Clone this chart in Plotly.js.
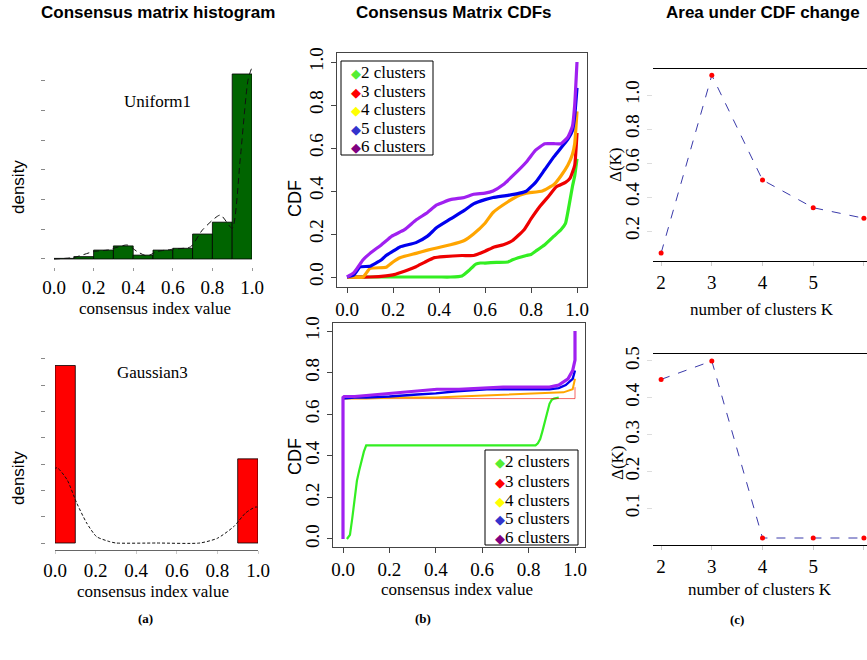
<!DOCTYPE html>
<html><head><meta charset="utf-8">
<script src="https://cdn.plot.ly/plotly-3.0.1.min.js"></script>
<style>html,body{margin:0;padding:0;background:#fff}#chart{width:867px;height:660px}</style>
</head><body><div id="chart"></div>
<script>
// ---------- DATA ----------
// (a) histograms (density, bin width 0.1)
const binCenters = [0.05,0.15,0.25,0.35,0.45,0.55,0.65,0.75,0.85,0.95];
const uniformDensity = [0.02,0.08,0.30,0.44,0.13,0.30,0.36,0.84,1.24,6.23];
const gaussianDensity = [6.75,0,0,0,0,0,0,0,0,3.2];
const uniformKdeX = [0,0.1,0.2,0.27,0.37,0.42,0.47,0.52,0.6,0.69,0.75,0.84,0.9,0.94,0.98,1.0,1.015,1.03,1.04];
const uniformKdeY = [0,0.05,0.25,0.3,0.47,0.25,0.1,0.25,0.33,0.41,0.98,1.48,1.03,3.33,6.03,6.43,6.0,3.9,2.4];
const gaussKdeX = [-0.025,0.01,0.06,0.107,0.156,0.205,0.27,0.3,0.5,0.714,0.8,0.88,0.94,0.99,1.04];
const gaussKdeY = [2.71,2.86,2.4,1.52,0.76,0.24,0.05,0,0,0,0.18,0.62,1.15,1.37,1.23];
const histTicks = [0,0.2,0.4,0.6,0.8,1.0];

// (b) consensus CDFs - Uniform1 (top)
const u2x = [0,0.2,0.4,0.45,0.5,0.53,0.56,0.58,0.6,0.65,0.7,0.72,0.78,0.8,0.82,0.86,0.9,0.93,0.95,0.97,0.98,0.99,1.0];
const u2y = [0,0,0,0,0.005,0.03,0.06,0.065,0.065,0.068,0.07,0.08,0.10,0.105,0.12,0.15,0.19,0.22,0.25,0.36,0.42,0.47,0.55];
const u3x = [0,0.1,0.17,0.2,0.23,0.27,0.3,0.34,0.38,0.42,0.5,0.55,0.6,0.64,0.68,0.72,0.77,0.8,0.84,0.88,0.91,0.95,0.97,0.99,1.0];
const u3y = [0,0,0.005,0.01,0.02,0.035,0.048,0.07,0.09,0.095,0.10,0.10,0.12,0.14,0.15,0.17,0.22,0.27,0.33,0.38,0.42,0.44,0.46,0.52,0.67];
const u4x = [0,0.07,0.1,0.17,0.2,0.23,0.3,0.35,0.39,0.45,0.51,0.55,0.6,0.635,0.7,0.75,0.78,0.85,0.9,0.93,0.96,0.98,0.99,1.0];
const u4y = [0,0,0.04,0.045,0.07,0.09,0.11,0.125,0.135,0.15,0.17,0.20,0.25,0.30,0.35,0.38,0.39,0.40,0.43,0.47,0.52,0.57,0.62,0.77];
const u5x = [0,0.03,0.057,0.1,0.15,0.17,0.2,0.23,0.3,0.35,0.39,0.45,0.51,0.55,0.6,0.635,0.7,0.75,0.78,0.82,0.86,0.9,0.93,0.96,0.98,0.99,1.0];
const u5y = [0,0.01,0.047,0.05,0.08,0.10,0.12,0.14,0.16,0.19,0.23,0.27,0.31,0.34,0.36,0.37,0.38,0.39,0.40,0.44,0.50,0.56,0.60,0.64,0.68,0.75,0.88];
const u6x = [0,0.03,0.07,0.1,0.15,0.195,0.25,0.3,0.35,0.39,0.45,0.51,0.55,0.6,0.635,0.68,0.72,0.78,0.82,0.86,0.9,0.93,0.96,0.98,0.99,1.0];
const u6y = [0,0.02,0.08,0.11,0.15,0.19,0.22,0.265,0.30,0.335,0.36,0.37,0.385,0.39,0.40,0.43,0.47,0.535,0.59,0.62,0.62,0.62,0.65,0.70,0.80,1.0];

// (b) consensus CDFs - Gaussian3 (bottom)
const g2x = [0.017,0.03,0.04,0.05,0.06,0.07,0.08,0.09,0.1,0.5,0.83,0.84,0.85,0.86,0.87,0.88,0.89,0.9,0.91,0.93];
const g2y = [0,0.02,0.1,0.2,0.28,0.33,0.38,0.42,0.45,0.45,0.45,0.46,0.48,0.52,0.56,0.61,0.65,0.67,0.675,0.68];
const g3x = [0,0.5,1.0,1.0];
const g3y = [0.675,0.675,0.675,0.73];
const g4x = [0,0.1,0.23,0.3,0.4,0.5,0.62,0.7,0.82,0.9,0.95,0.99,1.0];
const g4y = [0.675,0.675,0.68,0.68,0.68,0.685,0.69,0.695,0.70,0.70,0.705,0.72,0.77];
const g5x = [0,0.05,0.1,0.2,0.32,0.4,0.49,0.55,0.62,0.75,0.89,0.93,0.96,0.99,1.0];
const g5y = [0.675,0.68,0.68,0.685,0.695,0.70,0.71,0.715,0.72,0.72,0.72,0.725,0.74,0.77,0.81];
const g6x = [0,0,0.005,0.05,0.1,0.2,0.26,0.35,0.405,0.5,0.59,0.69,0.8,0.89,0.93,0.95,0.97,0.99,1.0,1.0];
const g6y = [0,0.68,0.685,0.685,0.69,0.70,0.705,0.715,0.72,0.72,0.725,0.73,0.73,0.73,0.74,0.755,0.77,0.81,0.86,1.0];

const clusterLabels = ['2 clusters','3 clusters','4 clusters','5 clusters','6 clusters'];
const curveColors = ['#33ee22','#ee0000','#ffa500','#0000ee','#a020f0'];
const legendColors = ['#55ee33','#ff0000','#ffff00','#3333cc','#800080'];
const cdfTicks = [0,0.2,0.4,0.6,0.8,1.0];

// (c) delta area
const kValues = [2,3,4,5,6];
const deltaUniform = [0.07,1.116,0.50,0.337,0.275];
const deltaGaussian = [0.45,0.50,0.019,0.019,0.019];
const deltaTicksTop = [0.2,0.4,0.6,0.8,1.0];
const deltaTicksBottom = [0.1,0.2,0.3,0.4,0.5];

// ---------- LAYOUT HELPERS ----------
const W = 867, H = 660;
const PX = v => v / W;
const PY = v => 1 - v / H;
const SERIF = 'Liberation Serif';
const SANS = 'Liberation Sans';

const traces = [];
// (a) top
traces.push({type:'bar', x:binCenters, y:uniformDensity, width:0.1, xaxis:'x', yaxis:'y',
  marker:{color:'#006400', line:{color:'#000', width:0.8}}, showlegend:false});
traces.push({type:'scatter', mode:'lines', x:uniformKdeX, y:uniformKdeY, xaxis:'x', yaxis:'y', cliponaxis:false,
  line:{color:'#111', width:1, dash:'6px,4px', shape:'spline', smoothing:0.6}, showlegend:false});
// (a) bottom
const gx = [], gy = [];
binCenters.forEach((c,i)=>{ if (gaussianDensity[i] > 0) { gx.push(c); gy.push(gaussianDensity[i]); } });
traces.push({type:'bar', x:gx, y:gy, width:0.1, xaxis:'x2', yaxis:'y2',
  marker:{color:'#ff0000', line:{color:'#000', width:0.8}}, showlegend:false});
traces.push({type:'scatter', mode:'lines', x:gaussKdeX, y:gaussKdeY, xaxis:'x2', yaxis:'y2', cliponaxis:false,
  line:{color:'#111', width:1, dash:'3px,2px', shape:'spline', smoothing:0.6}, showlegend:false});

// (b) top
const topX = [u2x,u3x,u4x,u5x,u6x], topY = [u2y,u3y,u4y,u5y,u6y];
topX.forEach((xs,i)=>traces.push({type:'scatter', mode:'lines', x:xs, y:topY[i], xaxis:'x3', yaxis:'y3',
  line:{color:curveColors[i], width:3.2, shape:'spline', smoothing:0.4}, name:clusterLabels[i], showlegend:false}));
// (b) bottom
const botX = [g2x,g3x,g4x,g5x,g6x], botY = [g2y,g3y,g4y,g5y,g6y];
const botW = [2.2,1,2,2.4,3.2];
botX.forEach((xs,i)=>traces.push({type:'scatter', mode:'lines', x:xs, y:botY[i], xaxis:'x4', yaxis:'y4',
  line:{color:curveColors[i], width:botW[i]}, opacity: i===1?0.6:1, name:clusterLabels[i], showlegend:false}));

// (c)
traces.push({type:'scatter', mode:'lines+markers', x:kValues, y:deltaUniform, xaxis:'x5', yaxis:'y5', cliponaxis:false,
  line:{color:'#3a3aaa', width:1, dash:'dash'}, marker:{color:'#ff0000', size:5}, showlegend:false});
traces.push({type:'scatter', mode:'lines+markers', x:kValues, y:deltaGaussian, xaxis:'x6', yaxis:'y6', cliponaxis:false,
  line:{color:'#3a3aaa', width:1, dash:'dash'}, marker:{color:'#ff0000', size:5}, showlegend:false});

// axes
function ax(o){
  return Object.assign({showgrid:false, zeroline:false, automargin:false, fixedrange:true,
    tickfont:{family:SERIF, size:19, color:'#000'}}, o);
}
const layout = {
  width:W, height:H, margin:{l:0,r:0,t:0,b:0}, paper_bgcolor:'#fff', plot_bgcolor:'rgba(0,0,0,0)',
  showlegend:false, font:{family:SERIF, color:'#000'}, bargap:0,
  // (a) top
  xaxis:ax({domain:[PX(54),PX(252)], range:[0,1], anchor:'y', tickvals:histTicks, tickformat:'.1f',
    showline:false, ticks:'outside', ticklen:3, tickcolor:'#999'}),
  yaxis:ax({domain:[PY(267),PY(62)], range:[-0.27,6.633], anchor:'free', position:PX(45),
    tickvals:[0,1,2,3,4,5,6], showticklabels:false, ticks:'outside', ticklen:4, tickcolor:'#888', showline:false}),
  // (a) bottom
  xaxis2:ax({domain:[PX(55),PX(258)], range:[0,1], anchor:'y2', tickvals:histTicks, tickformat:'.1f',
    showline:true, linecolor:'#666', linewidth:1, ticks:'outside', ticklen:3, tickcolor:'#ccc'}),
  yaxis2:ax({domain:[PY(550),PY(355)], range:[-0.266,7.15], anchor:'free', position:PX(45),
    tickvals:[0,1,2,3,4,5,6,7], showticklabels:false, ticks:'outside', ticklen:4, tickcolor:'#888', showline:false}),
  // (b) top
  xaxis3:ax({domain:[PX(337),PX(587)], range:[-0.0435,1.0435], anchor:'y3', tickvals:cdfTicks, tickformat:'.1f',
    showline:true, mirror:true, linecolor:'#444', linewidth:1, ticks:'outside', ticklen:5, tickcolor:'#444'}),
  yaxis3:ax({domain:[PY(287),PY(53)], range:[-0.0465,1.042], anchor:'x3', tickvals:cdfTicks, tickformat:'.1f',
    tickangle:-90, showline:true, mirror:true, linecolor:'#444', linewidth:1, ticks:'outside', ticklen:5, tickcolor:'#444'}),
  // (b) bottom
  xaxis4:ax({domain:[PX(333),PX(585)], range:[-0.0431,1.0431], anchor:'y4', tickvals:cdfTicks, tickformat:'.1f',
    showline:true, mirror:true, linecolor:'#444', linewidth:1, ticks:'outside', ticklen:5, tickcolor:'#444'}),
  yaxis4:ax({domain:[PY(547),PY(323)], range:[-0.0385,1.0385], anchor:'x4', tickvals:cdfTicks, tickformat:'.1f',
    tickangle:-90, showline:true, mirror:true, linecolor:'#444', linewidth:1, ticks:'outside', ticklen:5, tickcolor:'#444'}),
  // (c) top
  xaxis5:ax({domain:[PX(653),1], range:[1.84,6.061], anchor:'y5', tickvals:kValues,
    showline:true, mirror:true, linecolor:'#000', linewidth:1.2, ticks:'outside', ticklen:4, tickcolor:'#ccc'}),
  yaxis5:ax({domain:[PY(261),PY(69)], range:[0.0235,1.153], anchor:'x5', tickvals:deltaTicksTop, tickformat:'.1f',
    tickangle:-90, showline:false, ticks:'outside', ticklen:5, tickcolor:'#ddd'}),
  // (c) bottom
  xaxis6:ax({domain:[PX(653),1], range:[1.84,6.061], anchor:'y6', tickvals:kValues,
    showline:true, mirror:true, linecolor:'#000', linewidth:1.2, ticks:'outside', ticklen:4, tickcolor:'#ccc'}),
  yaxis6:ax({domain:[PY(545),PY(354)], range:[0,0.519], anchor:'x6', tickvals:deltaTicksBottom, tickformat:'.1f',
    tickangle:-90, showline:false, ticks:'outside', ticklen:5, tickcolor:'#ddd'}),
  annotations:[], shapes:[]
};

function ann(text, x, y, o){
  layout.annotations.push(Object.assign({text:text, xref:'paper', yref:'paper', x:PX(x), y:PY(y),
    xanchor:'center', yanchor:'middle', showarrow:false, font:{family:SERIF, size:17, color:'#000'}}, o||{}));
}
// panel titles
const titleFont = {family:SANS, size:17, color:'#000'};
ann('<b>Consensus matrix histogram</b>', 157.5, 12, {font:titleFont});
ann('<b>Consensus Matrix CDFs</b>', 454, 12, {font:titleFont});
ann('<b>Area under CDF change</b>', 763, 12, {font:titleFont});
// (a)
ann('density', 18, 187, {textangle:-90, font:{family:SANS, size:17, color:'#000'}});
ann('density', 18, 478, {textangle:-90, font:{family:SANS, size:17, color:'#000'}});
ann('consensus index value', 154.5, 308);
ann('consensus index value', 152.5, 591);
ann('Uniform1', 157.5, 101);
ann('Gaussian3', 152, 372);
ann('<b>(a)</b>', 145, 618, {font:{family:SERIF, size:13, color:'#000'}});
// (b)
ann('CDF', 295, 199, {textangle:-90, font:{family:SANS, size:18, color:'#000'}});
ann('CDF', 295, 457, {textangle:-90, font:{family:SANS, size:18, color:'#000'}});
ann('consensus index value', 457, 589);
ann('<b>(b)</b>', 423, 618, {font:{family:SERIF, size:13, color:'#000'}});
// (c)
ann('Δ(K)', 615, 165, {textangle:-90});
ann('Δ(K)', 617, 463, {textangle:-90});
ann('number of clusters K', 762, 309);
ann('number of clusters K', 760, 589);
ann('<b>(c)</b>', 737, 619, {font:{family:SERIF, size:13, color:'#000'}});

// legends (boxes + entries)
function legendBox(x0, y0, x1, y1, rows, markerX){
  layout.shapes.push({type:'rect', xref:'paper', yref:'paper', x0:PX(x0), x1:PX(x1), y0:PY(y1), y1:PY(y0),
    line:{color:'#000', width:1}, fillcolor:'#fff', layer:'above'});
  clusterLabels.forEach((lab,i)=>{
    ann('<span style="color:'+legendColors[i]+';font-size:13px">◆</span>'+lab, markerX, rows[i], {xanchor:'left'});
  });
}
legendBox(341, 61, 433, 155, [72,91,110,128,147], 349);
legendBox(485, 450, 578, 545, [462,481,500,518,537], 493);

Plotly.newPlot('chart', traces, layout, {staticPlot:true});
</script></body></html>
